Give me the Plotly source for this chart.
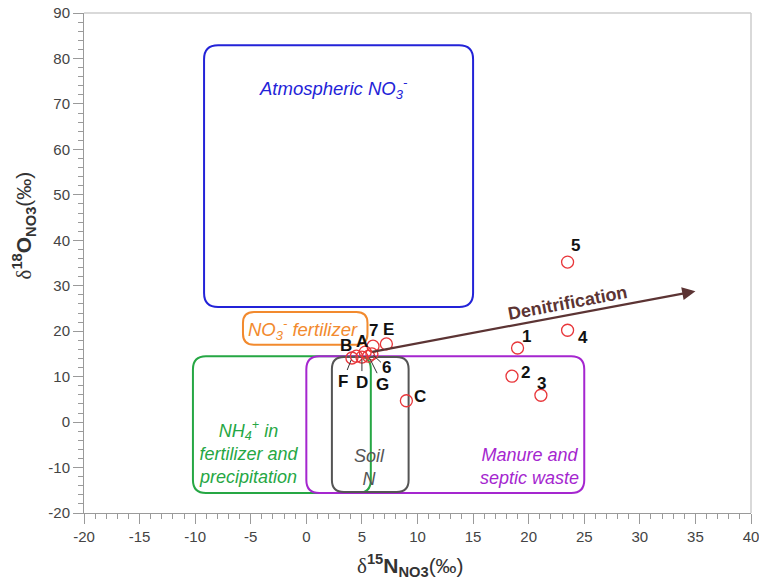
import plotly.graph_objects as go

# ---------------- data ----------------
sample_labels = ["1", "2", "3", "4", "5", "C", "E", "7", "A", "B", "F", "D", "G", "6"]
d15N = [19.0, 18.5, 21.1, 23.5, 23.5, 9.0, 7.2, 6.0, 5.3, 4.5, 4.1, 5.0, 5.6, 5.9]
d18O = [16.3, 10.1, 5.9, 20.2, 35.2, 4.7, 17.2, 16.7, 15.4, 14.5, 14.1, 14.3, 14.5, 15.0]

source_names = ["Atmospheric", "NO3 fertilizer", "NH4 fertilizer", "Manure", "Soil N"]
source_x0 = [-9.2, -5.7, -10.2, 0.0, 2.3]
source_x1 = [15.0, 5.5, 5.8, 25.0, 9.2]
source_y0 = [25.3, 17.0, -15.6, -15.6, -15.4]
source_y1 = [82.9, 24.2, 14.5, 14.5, 14.3]

denit_start = (5.8, 15.4)
denit_end = (35.0, 28.8)

x_range = [-20, 40]
y_range = [-20, 90]
x_ticks = [-20, -15, -10, -5, 0, 5, 10, 15, 20, 25, 30, 35, 40]
y_ticks = [-20, -10, 0, 10, 20, 30, 40, 50, 60, 70, 80, 90]

# ---------------- styling ----------------
W, H = 759, 580
ML, MR, MT, MB = 84, 8, 13, 67
PW, PH = W - ML - MR, H - MT - MB
PXX = PW / (x_range[1] - x_range[0])
PXY = PH / (y_range[1] - y_range[0])

box_colors = ["#2323d8", "#f28a2e", "#26a744", "#a526cf", "#555555"]
box_radius = [14, 11, 13, 13, 12]

def rrect(x0, x1, y0, y1, r):
    rx = r / PXX
    ry = r / PXY
    return (f"M {x0+rx},{y0} L {x1-rx},{y0} Q {x1},{y0} {x1},{y0+ry} "
            f"L {x1},{y1-ry} Q {x1},{y1} {x1-rx},{y1} "
            f"L {x0+rx},{y1} Q {x0},{y1} {x0},{y1-ry} "
            f"L {x0},{y0+ry} Q {x0},{y0} {x0+rx},{y0} Z")

fig = go.Figure()

shapes = []
for i in range(len(source_names)):
    shapes.append(dict(type="path", xref="x", yref="y",
                       path=rrect(source_x0[i], source_x1[i], source_y0[i], source_y1[i], box_radius[i]),
                       line=dict(color=box_colors[i], width=2), layer="below"))
# light frame top/right
shapes.append(dict(type="line", xref="paper", yref="paper", x0=0, x1=1, y0=1, y1=1,
                   line=dict(color="#cccccc", width=1.5)))
shapes.append(dict(type="line", xref="paper", yref="paper", x0=1, x1=1, y0=0, y1=1,
                   line=dict(color="#cccccc", width=1.5)))

fig.add_trace(go.Scatter(x=d15N, y=d18O, mode="markers",
                         marker=dict(symbol="circle-open", size=12, color="#e8363a",
                                     line=dict(width=1.3, color="#e8363a")),
                         hoverinfo="text", text=sample_labels, showlegend=False))

annotations = []
# label placement (pixel offsets), style only
label_shift = {
    "1": (9, 12), "2": (14, 4), "3": (1, 12), "4": (15, -7), "5": (8, 17),
    "C": (14, 4), "E": (2, 14), "7": (0, 16), "A": (-3, 11), "B": (-10, 11),
}
leader = {"F": (-9, 23), "D": (0, 25), "G": (14, 28), "6": (15, 14)}
lab_font = dict(family="Liberation Sans, Arial", size=17, color="#111111")
for lab, x, y in zip(sample_labels, d15N, d18O):
    if lab in label_shift:
        sx, sy = label_shift[lab]
        annotations.append(dict(x=x, y=y, xref="x", yref="y", text=f"<b>{lab}</b>",
                                showarrow=False, xshift=sx, yshift=sy, font=lab_font))
    else:
        ax, ay = leader[lab]
        annotations.append(dict(x=x, y=y, xref="x", yref="y", text=f"<b>{lab}</b>",
                                showarrow=True, ax=ax, ay=ay, arrowhead=0, arrowwidth=1,
                                arrowcolor="#333333", standoff=2, font=lab_font))

# source region labels
src_font = "Liberation Sans, Arial"
annotations += [
    dict(x=2.4, y=73.3, xref="x", yref="y", showarrow=False,
         text="<i>Atmospheric NO<sub>3</sub><sup>-</sup></i>",
         font=dict(family=src_font, size=18.5, color="#2323d8")),
    dict(x=-0.3, y=20.4, xref="x", yref="y", showarrow=False,
         text="<i>NO<sub>3</sub><sup>-</sup> fertilizer</i>",
         font=dict(family=src_font, size=18.5, color="#f28a2e")),
    dict(x=-5.2, y=-6.6, xref="x", yref="y", showarrow=False,
         text="<i>NH<sub>4</sub><sup>+</sup> in<br>fertilizer and<br>precipitation</i>",
         font=dict(family=src_font, size=18, color="#26a744")),
    dict(x=5.7, y=-9.9, xref="x", yref="y", showarrow=False,
         text="<i>Soil<br>N</i>",
         font=dict(family=src_font, size=18, color="#555555")),
    dict(x=20.1, y=-9.7, xref="x", yref="y", showarrow=False,
         text="<i>Manure and<br>septic waste</i>",
         font=dict(family=src_font, size=18, color="#a526cf")),
]

# denitrification arrow
annotations.append(dict(x=denit_end[0], y=denit_end[1], ax=denit_start[0], ay=denit_start[1],
                        xref="x", yref="y", axref="x", ayref="y", showarrow=True, text="",
                        arrowhead=2, arrowsize=1.2, arrowwidth=2.2, arrowcolor="#5c3434"))
annotations.append(dict(x=23.5, y=26.3, xref="x", yref="y", showarrow=False,
                        text="<b>Denitrification</b>", textangle=-10.6,
                        font=dict(family=src_font, size=18, color="#5c3434")))

# axis titles
annotations.append(dict(x=0.49, y=-0.104, xref="paper", yref="paper", showarrow=False,
                        yanchor="middle",
                        text="<span style='font-family:Liberation Serif'>δ</span><b><sup>15</sup>N<sub>NO3</sub></b>(‰)",
                        font=dict(family=src_font, size=21, color="#333333")))
annotations.append(dict(x=-0.09, y=0.575, xref="paper", yref="paper", showarrow=False,
                        textangle=-90, xanchor="center",
                        text="<span style='font-family:Liberation Serif'>δ</span><b><sup>18</sup>O<sub>NO3</sub></b>(‰)",
                        font=dict(family=src_font, size=21, color="#333333")))

axis_common = dict(showgrid=False, zeroline=False, showline=True, linecolor="#9a9a9a",
                   linewidth=1, ticks="outside", ticklen=10, tickcolor="#9a9a9a",
                   automargin=False, ticklabeloverflow="allow",
                   tickfont=dict(family=src_font, size=15, color="#444444"))
fig.update_xaxes(range=x_range, tickvals=x_ticks, ticktext=[str(v) for v in x_ticks],
                 minor=dict(dtick=1, tick0=0, ticks="outside", ticklen=5, tickcolor="#9a9a9a"),
                 **axis_common)
fig.update_yaxes(range=y_range, tickvals=y_ticks, ticktext=[str(v) for v in y_ticks],
                 minor=dict(dtick=2, tick0=0, ticks="outside", ticklen=5, tickcolor="#9a9a9a"),
                 **axis_common)

fig.update_layout(width=W, height=H, margin=dict(l=ML, r=MR, t=MT, b=MB, autoexpand=False),
                  plot_bgcolor="white", paper_bgcolor="white",
                  shapes=shapes, annotations=annotations, showlegend=False)

fig.write_html("out.html", config={"displayModeBar": False},
               post_script="document.body.style.margin='0';document.body.style.overflow='hidden';")
